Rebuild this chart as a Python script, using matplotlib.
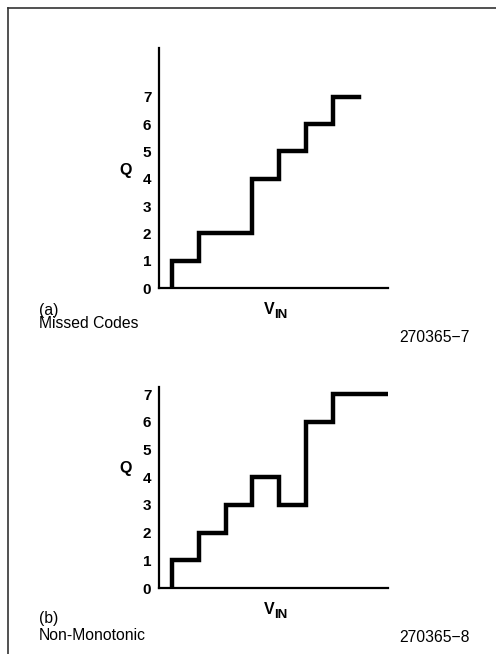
import matplotlib
matplotlib.use("Agg")
import matplotlib.pyplot as plt
from matplotlib.lines import Line2D

# ---- data ----
codes_ticks = [0, 1, 2, 3, 4, 5, 6, 7]
tick_labels = ["0", "1", "2", "3", "4", "5", "6", "7"]

# (a) Missed Codes: transitions of V_IN and output code after each transition
a_vin = [0.5, 0.5, 1.5, 3.5, 4.5, 5.5, 6.5, 7.5]
a_q = [0, 1, 2, 4, 5, 6, 7, 7]

# (b) Non-Monotonic
b_vin = [0.5, 0.5, 1.5, 2.5, 3.5, 4.5, 5.5, 6.5, 8.58]
b_q = [0, 1, 2, 3, 4, 3, 6, 7, 7]

W, H = 496, 654
plt.rcParams['font.family'] = ['Liberation Sans', 'DejaVu Sans']
BOLDF = ['Liberation Sans', 'DejaVu Sans']

fig = plt.figure(figsize=(W / 100, H / 100), dpi=100)


def px_axes(left, top, right, bottom):
    return fig.add_axes([left / W, 1 - bottom / H, (right - left) / W, (bottom - top) / H])


def style(ax, xmax, ymax):
    ax.set_xlim(0, xmax)
    ax.set_ylim(0, ymax)
    for s in ("top", "right"):
        ax.spines[s].set_visible(False)
    for s in ("left", "bottom"):
        ax.spines[s].set_linewidth(1.6)
        ax.spines[s].set_color("black")
    ax.set_xticks([])
    ax.set_yticks(codes_ticks)
    ax.set_yticklabels(tick_labels, fontsize=11, fontweight="bold", family=BOLDF)
    ax.tick_params(axis="y", length=0, pad=5.5)
    ax.patch.set_alpha(0)
    tr = ax.get_yaxis_transform()
    ax.text(-33 / 229, 4.3, "Q", transform=tr, ha="center", va="center",
            fontsize=11.5, fontweight="bold", family=BOLDF)


# top panel
ax1 = px_axes(159, 48, 388, 288)
style(ax1, 229 / 26.7, 240 / 27.3)
ax1.step(a_vin, a_q, where="post", color="black", lw=3.2, solid_joinstyle="miter")

# bottom panel
ax2 = px_axes(159, 387, 388, 588)
style(ax2, 229 / 26.7, 201 / 27.7)
ax2.step(b_vin, b_q, where="post", color="black", lw=3.2, solid_joinstyle="miter")


def ftext(x, y, s, ha="left", **kw):
    kw.setdefault("fontsize", 11.3)
    fig.text(x / W, 1 - y / H, s, ha=ha, va="center", **kw)


# V_IN labels
for dy in (0, 300):
    ftext(274.5, 310 + dy, "V", ha="right", fontsize=11.5, fontweight="bold", family=BOLDF)
    ftext(274.5, 315 + dy, "IN", ha="left", fontsize=9.5, fontweight="bold", family=BOLDF)

ftext(39, 310, "(a)")
ftext(39, 324, "Missed Codes")
ftext(470, 337, "270365\u22127", ha="right")
ftext(39, 618, "(b)")
ftext(39, 635, "Non-Monotonic")
ftext(470, 637, "270365\u22128", ha="right")

# frame
fig.add_artist(Line2D([8 / W, 8 / W], [0, 1 - 8 / H], transform=fig.transFigure, color="#333333", lw=1.2))
fig.add_artist(Line2D([8 / W, 1], [1 - 8 / H, 1 - 8 / H], transform=fig.transFigure, color="#333333", lw=1.2))

fig.savefig("out.png", dpi=100)
